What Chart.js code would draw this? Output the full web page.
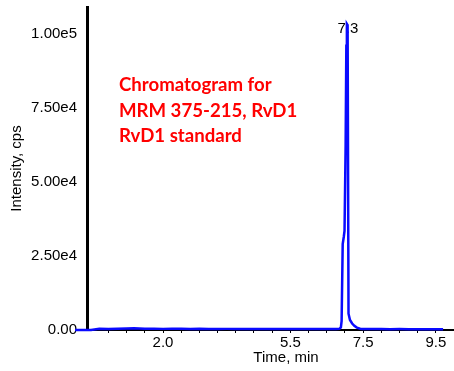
<!DOCTYPE html>
<html>
<head>
<meta charset="utf-8">
<script src="https://cdn.jsdelivr.net/npm/chart.js@4"></script>
<style>
  html, body { margin: 0; padding: 0; background: #fff; }
  #wrap { width: 454px; height: 371px; }
</style>
</head>
<body>
<div id="wrap"><canvas id="c" width="454" height="371"></canvas></div>
<script>
// ---- data ----
const timeMin = [
  -0.42, 0.02, 0.25, 0.5, 0.75, 1.0, 1.2, 1.5, 1.75, 2.0, 2.25, 2.5, 2.75,
  3.0, 3.25, 3.5, 3.75, 4.0, 4.25, 4.5, 4.75, 5.0, 5.25, 5.5, 5.75, 6.0, 6.25,
  6.5, 6.75, 6.85, 6.89, 6.91, 6.94, 6.97, 6.99, 7.02, 7.04, 7.055, 7.075, 7.10,
  7.14, 7.20, 7.26, 7.33, 7.42, 7.5, 7.75, 8.0, 8.25, 8.5, 8.75, 9.0,
  9.25, 9.5, 9.7
];
const intensity = [
  0, 0, 420, 380, 450, 520, 600, 430, 400, 380, 420, 390, 360,
  400, 370, 350, 380, 360, 340, 370, 350, 330, 360, 340, 320, 350, 330,
  340, 360, 380, 900, 3000, 29000, 31500, 33500, 62000, 96000, 103400, 103000, 5500,
  3400, 2200, 1400, 800, 450, 350, 300, 320, 280, 300, 290, 260,
  280, 270, 260
];
const yTickValues = [0, 25000, 50000, 75000, 100000];
const yTickLabels = ['0.00', '2.50e4', '5.00e4', '7.50e4', '1.00e5'];
const xTickValues = [0.5, 1.0, 1.5, 2.0, 2.5, 3.0, 3.5, 4.0, 4.5, 5.0, 5.5, 6.0, 6.5, 7.0, 7.5, 8.0, 8.5, 9.0, 9.5];
const xLabelledTicks = ['2.0', '5.5', '7.5', '9.5'];
const peakLabel = '7.3';
const annotationLines = ['Chromatogram for', 'MRM 375-215, RvD1', 'RvD1 standard'];
const xTitle = 'Time, min';
const yTitle = 'Intensity, cps';

const points = timeMin.map((t, i) => ({ x: t, y: intensity[i] }));
const AXIS_FONT = 'Arial, "Liberation Sans", sans-serif';

const peakPlugin = {
  id: 'peakLabel',
  beforeDatasetsDraw(chart) {
    const meta = chart.getDatasetMeta(0);
    let iMax = 0;
    intensity.forEach((v, i) => { if (v > intensity[iMax]) iMax = i; });
    const el = meta.data[iMax];
    const ctx = chart.ctx;
    ctx.save();
    ctx.font = '15px ' + AXIS_FONT;
    ctx.fillStyle = '#000';
    ctx.textAlign = 'center';
    ctx.textBaseline = 'alphabetic';
    ctx.fillText(peakLabel, el.x + 1, el.y + 9);
    ctx.restore();
  }
};

const textPlugin = {
  id: 'annotText',
  afterDraw(chart) {
    const ctx = chart.ctx;
    ctx.save();
    ctx.font = 'bold 18.6px Lato, "Open Sans", sans-serif';
    ctx.fillStyle = '#ff0000';
    ctx.textAlign = 'left';
    ctx.textBaseline = 'alphabetic';
    annotationLines.forEach((line, i) => ctx.fillText(line, 119, 91 + i * 25.5));
    ctx.font = '15px ' + AXIS_FONT;
    ctx.fillStyle = '#000';
    ctx.textAlign = 'center';
    ctx.textBaseline = 'middle';
    ctx.fillText(xTitle, 286, 358);
    ctx.restore();
  }
};

new Chart(document.getElementById('c'), {
  type: 'line',
  data: {
    datasets: [{
      data: points,
      borderColor: '#0a0aff',
      borderWidth: 2.5,
      pointRadius: 0,
      tension: 0,
      fill: false,
      clip: false
    }]
  },
  options: {
    responsive: false,
    animation: false,
    devicePixelRatio: 1,
    layout: { padding: { top: 7, right: 0, bottom: 0, left: 0 } },
    plugins: { legend: { display: false }, tooltip: { enabled: false } },
    scales: {
      x: {
        type: 'linear',
        min: -0.09,
        max: 10.0,
        afterBuildTicks(scale) { scale.ticks = xTickValues.map(v => ({ value: v })); },
        afterFit(scale) {
          scale.height = 41;
          scale.paddingLeft = 0; scale.paddingRight = 0;
          scale.paddingTop = 0; scale.paddingBottom = 0;
        },
        ticks: {
          autoSkip: false,
          maxRotation: 0,
          padding: 1,
          color: '#000',
          font: { family: AXIS_FONT, size: 15 },
          callback(v) {
            const s = Number(v).toFixed(1);
            return xLabelledTicks.includes(s) ? s : '';
          }
        },
        grid: { display: true, drawOnChartArea: false, drawTicks: true, tickLength: 3, color: '#000', lineWidth: 1 },
        border: { display: true, color: '#000', width: 2 },
        title: { display: false }
      },
      y: {
        type: 'linear',
        min: 0,
        max: 109100,
        afterBuildTicks(scale) { scale.ticks = yTickValues.map(v => ({ value: v })); },
        afterFit(scale) {
          scale.width = 87;
          scale.paddingTop = 0; scale.paddingBottom = 0;
          scale.paddingLeft = 0; scale.paddingRight = 0;
        },
        ticks: {
          padding: 10,
          color: '#000',
          font: { family: AXIS_FONT, size: 15 },
          callback(v) { const i = yTickValues.indexOf(v); return i >= 0 ? yTickLabels[i] : ''; }
        },
        grid: { display: true, drawOnChartArea: false, drawTicks: false, color: '#000' },
        border: { display: true, color: '#000', width: 3 },
        title: {
          display: true,
          text: yTitle,
          color: '#000',
          font: { family: AXIS_FONT, size: 15 },
          padding: { top: 8, bottom: 0 }
        }
      }
    }
  },
  plugins: [peakPlugin, textPlugin]
});
</script>
</body>
</html>
